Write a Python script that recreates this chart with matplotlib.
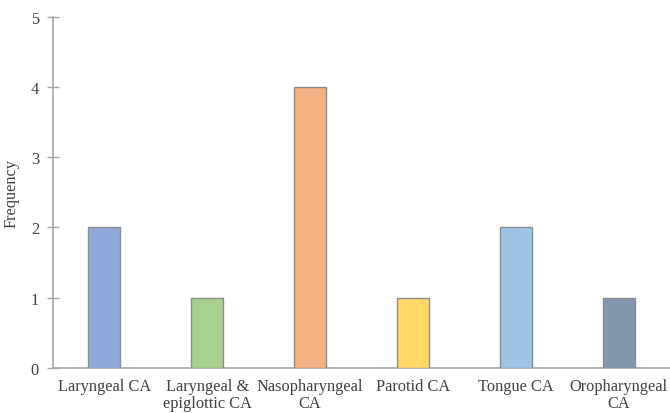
import matplotlib.pyplot as plt
import matplotlib as mpl

mpl.rcParams.update({'font.family': 'Liberation Serif', 'font.size': 11.8})

cancer_types = ["Laryngeal CA", "Laryngeal &\nepiglottic CA", "Nasopharyngeal\nCA",
                "Parotid CA", "Tongue CA", "Oropharyngeal\nCA"]
frequency = [2, 1, 4, 1, 2, 1]
colors = ["#8eaadb", "#a9d18e", "#f4b183", "#ffd966", "#9dc3e6", "#8497b0"]

grey = "#a6a6a6"
text_col = "#404040"

fig = plt.figure(figsize=(6.7, 4.14), dpi=100)
ax = fig.add_axes([0.079, 0.109, 0.921, 0.848])

x = range(len(cancer_types))
ax.bar(x, frequency, width=0.31, color=colors, edgecolor="#8c8c8c", linewidth=1.0, zorder=3)

ax.set_xlim(-0.5, len(cancer_types) - 0.5)
ax.set_ylim(0, 5)
ax.set_yticks(range(6))
ax.set_xticks(list(x))
ax.set_xticklabels(cancer_types, color=text_col, linespacing=1.15)
ax.tick_params(axis='x', length=0, pad=7)
ax.tick_params(axis='y', direction='inout', length=8, width=1, color=grey, labelcolor=text_col, pad=6)
ax.set_ylabel("Frequency", color=text_col, labelpad=8)

for side in ["top", "right"]:
    ax.spines[side].set_visible(False)
for side in ["left", "bottom"]:
    ax.spines[side].set_color(grey)
    ax.spines[side].set_linewidth(1.2)

fig.savefig("out.png", dpi=100)
